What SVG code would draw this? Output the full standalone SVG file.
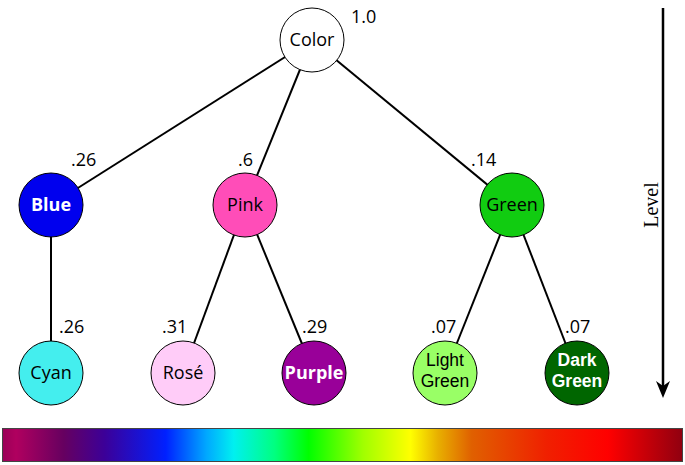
<svg xmlns="http://www.w3.org/2000/svg" width="685" height="465" viewBox="0 0 685 465">
<style>
.node{stroke:#000;stroke-width:1}
.lbl{font-family:"Open Sans","Liberation Sans",sans-serif;font-size:18px;text-anchor:middle;fill:#000}
.two{font-family:"Liberation Sans",sans-serif;font-size:17.5px}
.w{fill:#fff;font-weight:bold}
.num{font-family:"Open Sans","Liberation Sans",sans-serif;font-size:18px;fill:#000}
.edge{stroke:#000;stroke-width:2;fill:none}
</style>
<defs>
<linearGradient id="spec" x1="0" y1="0" x2="1" y2="0">
<stop offset="0" stop-color="#9a0058"/>
<stop offset="0.02" stop-color="#b0005f"/>
<stop offset="0.09" stop-color="#660060"/>
<stop offset="0.15" stop-color="#3c0098"/>
<stop offset="0.24" stop-color="#0020ff"/>
<stop offset="0.30" stop-color="#00a8ff"/>
<stop offset="0.34" stop-color="#00f0f0"/>
<stop offset="0.40" stop-color="#00ff80"/>
<stop offset="0.45" stop-color="#00ff00"/>
<stop offset="0.53" stop-color="#a0ff00"/>
<stop offset="0.60" stop-color="#ffff00"/>
<stop offset="0.64" stop-color="#e8b000"/>
<stop offset="0.69" stop-color="#e06000"/>
<stop offset="0.80" stop-color="#f02000"/>
<stop offset="0.89" stop-color="#ff0000"/>
<stop offset="1" stop-color="#900010"/>
</linearGradient>
</defs>
<g id="connectors">
<line class="edge" x1="312" y1="40" x2="51" y2="205"/>
<line class="edge" x1="312" y1="40" x2="245" y2="205"/>
<line class="edge" x1="312" y1="40" x2="512" y2="205"/>
<line class="edge" x1="51" y1="205" x2="51" y2="373"/>
<line class="edge" x1="245" y1="205" x2="183" y2="373"/>
<line class="edge" x1="245" y1="205" x2="314" y2="373"/>
<line class="edge" x1="512" y1="205" x2="445" y2="373"/>
<line class="edge" x1="512" y1="205" x2="577" y2="373"/>
</g>
<g id="color"><circle class="node" cx="312" cy="40" r="32" fill="#fff"/><text class="lbl" x="312" y="46">Color</text></g>
<g id="blue"><circle class="node" cx="51" cy="205" r="32" fill="#0000ee"/><text class="lbl w" x="51" y="211">Blue</text></g>
<g id="pink"><circle class="node" cx="245" cy="205" r="32" fill="#ff4db8"/><text class="lbl" x="245" y="211">Pink</text></g>
<g id="green"><circle class="node" cx="512" cy="205" r="32" fill="#11cc11"/><text class="lbl" x="512" y="211">Green</text></g>
<g id="cyan"><circle class="node" cx="51" cy="373" r="32" fill="#44eeee"/><text class="lbl" x="51" y="379">Cyan</text></g>
<g id="rose"><circle class="node" cx="183" cy="373" r="32" fill="#ffccf8"/><text class="lbl" x="183" y="379">Rosé</text></g>
<g id="purple"><circle class="node" cx="314" cy="373" r="32" fill="#990099"/><text class="lbl w" x="314" y="379">Purple</text></g>
<g id="lightgreen"><circle class="node" cx="445" cy="373" r="32" fill="#99ff66"/><text class="lbl two" x="445" y="366">Light</text><text class="lbl two" x="445" y="386.5">Green</text></g>
<g id="darkgreen"><circle class="node" cx="577" cy="373" r="32" fill="#006600"/><text class="lbl two w" x="577" y="366">Dark</text><text class="lbl two w" x="577" y="386.5">Green</text></g>
<g id="weights">
<text class="num" x="351" y="23">1.0</text>
<text class="num" x="71" y="166">.26</text>
<text class="num" x="238" y="166">.6</text>
<text class="num" x="471" y="166">.14</text>
<text class="num" x="59" y="333">.26</text>
<text class="num" x="162" y="333">.31</text>
<text class="num" x="302" y="333">.29</text>
<text class="num" x="431" y="333">.07</text>
<text class="num" x="565" y="333">.07</text>
</g>
<g id="level">
<line x1="663" y1="8" x2="663" y2="390" stroke="#000" stroke-width="2.5"/>
<path d="M656,381 L663,398 L670,381 L663,386 Z" fill="#000"/>
<text x="0" y="0" transform="translate(658,205) rotate(-90)" font-family="Liberation Serif,serif" font-size="20" text-anchor="middle">Level</text>
</g>
<rect id="spectrum" x="2.5" y="428.5" width="680" height="33" fill="url(#spec)" stroke="#444" stroke-width="1"/>
</svg>
